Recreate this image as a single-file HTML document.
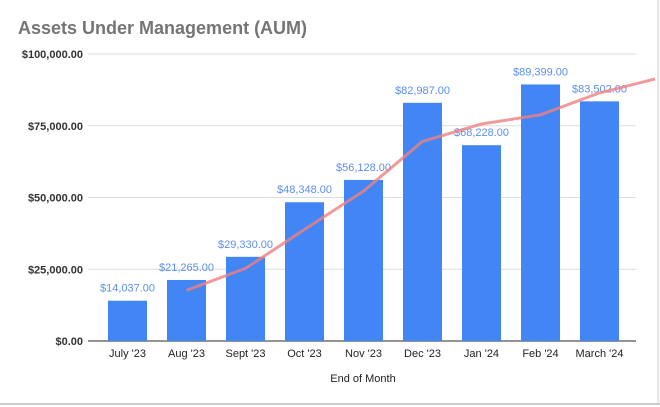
<!DOCTYPE html>
<html><head><meta charset="utf-8"><style>
html,body{margin:0;padding:0;background:#fff;}
svg{display:block;font-family:"Liberation Sans",Arial,sans-serif;}
</style></head><body>
<svg id="chart" width="660" height="407" viewBox="0 0 660 407">
<text x="18" y="34" font-size="18" font-weight="bold" fill="#757575">Assets Under Management (AUM)</text>
<g id="grid"></g><g id="bars"></g><g id="labels"></g><g id="trend"></g>
<text x="363" y="382" font-size="11" fill="#222" text-anchor="middle">End of Month</text>
<line x1="0" y1="404" x2="660" y2="404" stroke="#bbb" stroke-width="1.5"/>
<line x1="658" y1="0" x2="658" y2="404" stroke="#ccc" stroke-width="1"/>
</svg>
<script>
const categories=["July '23","Aug '23","Sept '23","Oct '23","Nov '23","Dec '23","Jan '24","Feb '24","March '24"];
const values=[14037,21265,29330,48348,56128,82987,68228,89399,83502];
const valueLabels=["$14,037.00","$21,265.00","$29,330.00","$48,348.00","$56,128.00","$82,987.00","$68,228.00","$89,399.00","$83,502.00"];
const yTicks=[0,25000,50000,75000,100000];
const yTickLabels=["$0.00","$25,000.00","$50,000.00","$75,000.00","$100,000.00"];
const trendIndex=[1,2,3,4,5,6,7,8,8.94];
const trendValues=[17651,25298,38839,52238,69558,75608,78814,86451,91300];
const NS="http://www.w3.org/2000/svg";
const y0=341,yTop=54,yMax=100000;
function yScale(v){return y0-(v/yMax)*(y0-yTop);}
function xScale(i){return 127.5+i*59;}
function mk(tag,attrs,parent){const e=document.createElementNS(NS,tag);for(const k in attrs)e.setAttribute(k,attrs[k]);parent.appendChild(e);return e;}
const grid=document.getElementById('grid'),bars=document.getElementById('bars'),labels=document.getElementById('labels'),trend=document.getElementById('trend');
yTicks.forEach((t,i)=>{
  const y=yScale(t);
  const l=mk('line',{x1:88,x2:636,y1:y,y2:y,stroke:i===0?'#555':'#ddd','stroke-width':i===0?1.2:1},grid);
  
  
  const tx=mk('text',{x:83,y:y+4,'font-size':11,'font-weight':'bold','fill':'#333','text-anchor':'end'},grid);
  tx.textContent=yTickLabels[i];
  
  
});
values.forEach((v,i)=>{
  const cx=xScale(i),y=yScale(v);
  const r=mk('rect',{x:cx-19.5,y:y,width:39,height:y0-y,fill:'#4285f4'},bars);
  
  
  const t=mk('text',{x:cx,y:y-9,'font-size':11,fill:'#5b8ff0','text-anchor':'middle'},labels);
  t.textContent=valueLabels[i];
  
  
  const c=mk('text',{x:cx,y:357,'font-size':11,fill:'#222','text-anchor':'middle'},labels);
  c.textContent=categories[i];
  
  
});
let d='';
trendIndex.forEach((ix,k)=>{d+=(k?'L':'M')+xScale(ix).toFixed(1)+','+yScale(trendValues[k]).toFixed(1);});
const p=mk('path',{d:d,fill:'none',stroke:'#f08080','stroke-opacity':0.8,'stroke-width':3,'stroke-linejoin':'round'},trend);


</script>
</body></html>
